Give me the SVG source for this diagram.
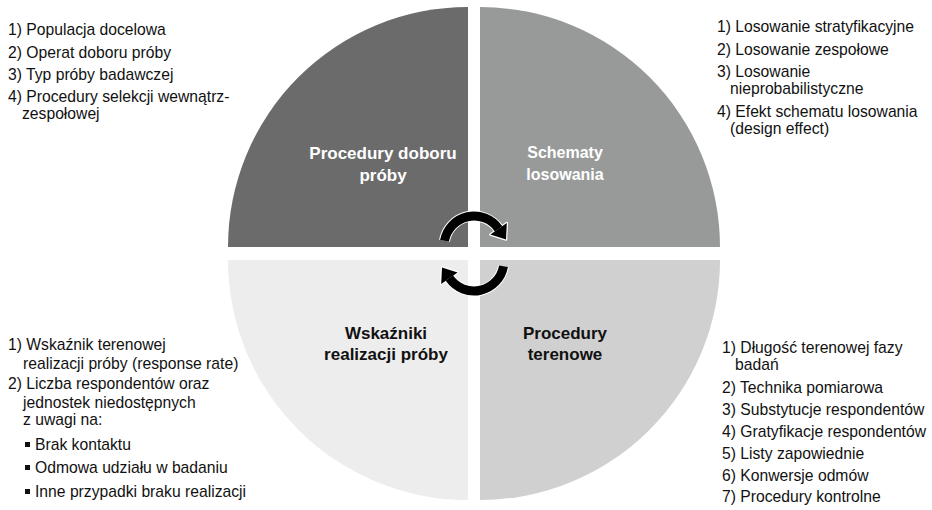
<svg xmlns="http://www.w3.org/2000/svg" width="932" height="510" viewBox="0 0 932 510">
<style>
.lst{font-family:"Liberation Sans",Arial,sans-serif;font-size:15.7px;fill:#111}
.lbl{font-family:"Liberation Sans",Arial,sans-serif;font-size:17px;font-weight:bold;text-anchor:middle}
.sm{font-size:16px}
.w{fill:#fff}.k{fill:#111}
.arc{fill:none;stroke:#000;stroke-width:9}
.arcw{fill:none;stroke:#fff;stroke-width:11}
</style>
<defs>
<g id="arrow">
<path class="arcw" d="M444.5,240.8 A30,30 0 0 1 498.6,228.8"/>
<polygon points="506.8,223 506,239.5 490.4,234.5" fill="#fff" stroke="#fff" stroke-width="2.5" stroke-linejoin="round"/>
<path class="arc" d="M444.5,240.8 A30,30 0 0 1 498.6,228.8"/>
<polygon points="506.8,223 506,239.5 490.4,234.5" fill="#000"/>
</g>
</defs>
<rect width="932" height="510" fill="#fff"/>
<g id="node-procedury-doboru">
<path d="M468,247 L228,247 A240,240 0 0 1 468,7 Z" fill="#6b6b6b"/>
<text class="lbl w" x="383" y="159">Procedury doboru</text>
<text class="lbl w" x="383" y="181">próby</text>
</g>
<g id="node-schematy">
<path d="M480,247 L480,7 A240,240 0 0 1 720,247 Z" fill="#989a9a"/>
<text class="lbl sm w" x="565" y="158">Schematy</text>
<text class="lbl sm w" x="565" y="180">losowania</text>
</g>
<g id="node-wskazniki">
<path d="M468,260 L468,500 A240,240 0 0 1 228,260 Z" fill="#ededed"/>
<text class="lbl k" x="386" y="339">Wskaźniki</text>
<text class="lbl k" x="386" y="360">realizacji próby</text>
</g>
<g id="node-terenowe">
<path d="M480,260 L720,260 A240,240 0 0 1 480,500 Z" fill="#d0d0d0"/>
<text class="lbl k" x="565" y="339">Procedury</text>
<text class="lbl k" x="565" y="360">terenowe</text>
</g>
<g id="connectors">
<use href="#arrow"/>
<use href="#arrow" transform="rotate(180 474 253.5)"/>
</g>
<g id="list-top-left" class="lst">
<text x="8" y="35">1) Populacja docelowa</text>
<text x="8" y="58">2) Operat doboru próby</text>
<text x="8" y="80">3) Typ próby badawczej</text>
<text x="8" y="102">4) Procedury selekcji wewnątrz-</text>
<text x="22" y="119">zespołowej</text>
</g>
<g id="list-top-right" class="lst">
<text x="717" y="32">1) Losowanie stratyfikacyjne</text>
<text x="717" y="55">2) Losowanie zespołowe</text>
<text x="717" y="77">3) Losowanie</text>
<text x="730" y="94">nieprobabilistyczne</text>
<text x="717" y="117">4) Efekt schematu losowania</text>
<text x="730" y="134">(design effect)</text>
</g>
<g id="list-bottom-left" class="lst">
<text x="8" y="350">1) Wskaźnik terenowej</text>
<text x="23" y="369">realizacji próby (response rate)</text>
<text x="8" y="389">2) Liczba respondentów oraz</text>
<text x="23" y="408">jednostek niedostępnych</text>
<text x="23" y="425">z uwagi na:</text>
<rect x="25" y="442" width="5" height="5" fill="#111"/>
<text x="35" y="450">Brak kontaktu</text>
<rect x="25" y="465" width="5" height="5" fill="#111"/>
<text x="35" y="473">Odmowa udziału w badaniu</text>
<rect x="25" y="489" width="5" height="5" fill="#111"/>
<text x="35" y="497">Inne przypadki braku realizacji</text>
</g>
<g id="list-bottom-right" class="lst">
<text x="722" y="353">1) Długość terenowej fazy</text>
<text x="735" y="370">badań</text>
<text x="722" y="393">2) Technika pomiarowa</text>
<text x="722" y="415">3) Substytucje respondentów</text>
<text x="722" y="437">4) Gratyfikacje respondentów</text>
<text x="722" y="459">5) Listy zapowiednie</text>
<text x="722" y="481">6) Konwersje odmów</text>
<text x="722" y="502">7) Procedury kontrolne</text>
</g>
</svg>
